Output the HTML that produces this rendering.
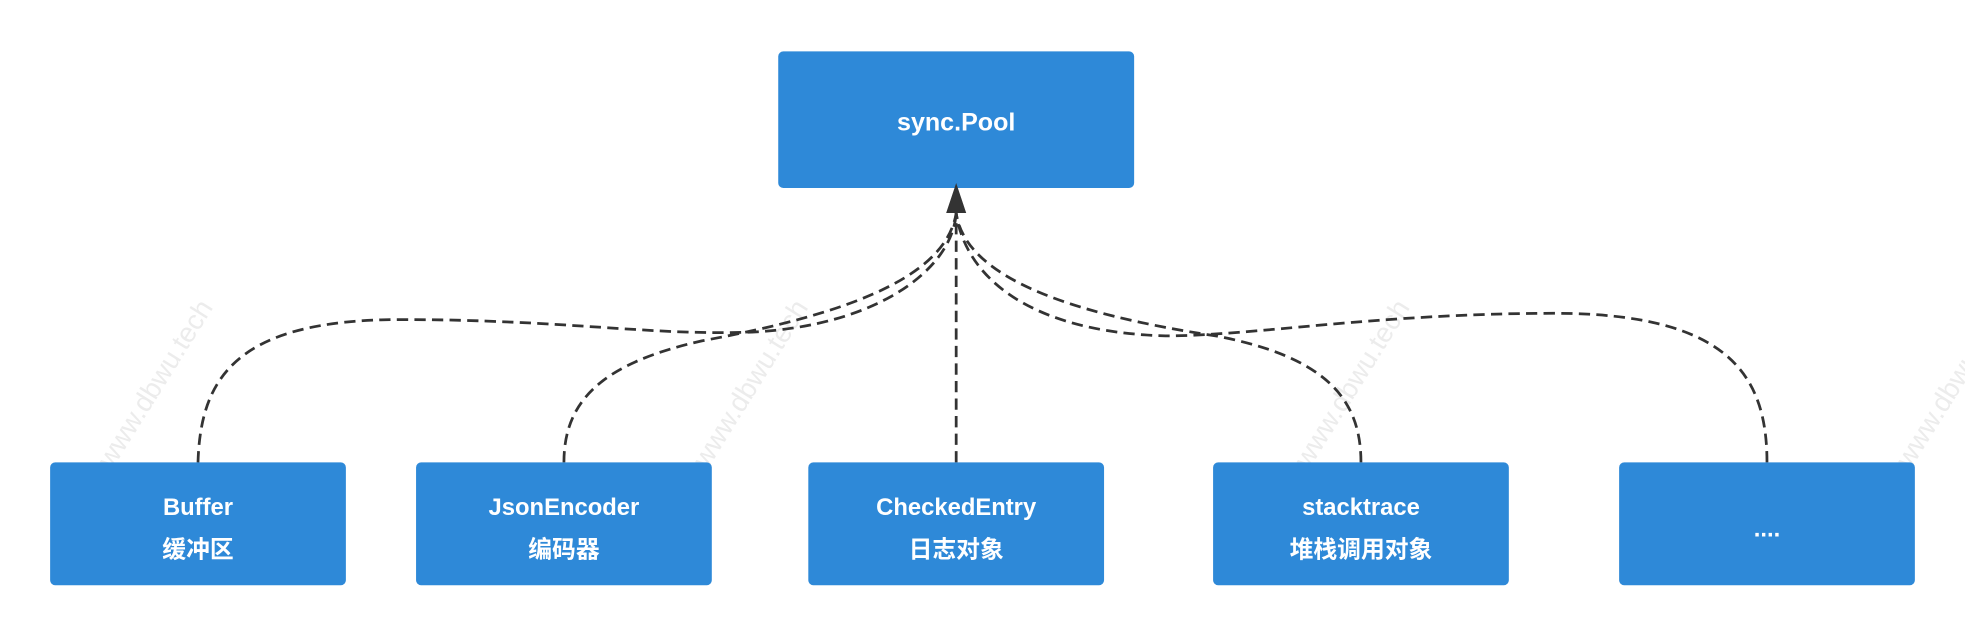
<!DOCTYPE html>
<html><head><meta charset="utf-8"><style>
html,body{margin:0;padding:0;background:#fff;width:1965px;height:636px;overflow:hidden}
svg{display:block}
text{font-family:"Liberation Sans","Noto Sans CJK SC",sans-serif;font-weight:bold;fill:#fff;text-anchor:middle}
.wm{fill:#ececec;font-weight:normal;font-size:22px}
</style></head><body>
<svg width="1965" height="636" viewBox="0 0 1568 507.5" xmlns="http://www.w3.org/2000/svg">
<g>
<text class="wm" transform="translate(130,310) rotate(-58)">www.dbwu.tech</text>
<text class="wm" transform="translate(605,310) rotate(-58)">www.dbwu.tech</text>
<text class="wm" transform="translate(1085,310) rotate(-58)">www.dbwu.tech</text>
<text class="wm" transform="translate(1565,310) rotate(-58)">www.dbwu.tech</text>
</g>
<g fill="none" stroke="#333" stroke-width="2.2" stroke-dasharray="9,5">
<path d="M158,369 C160,300 190,255 320,255 C450,255 520,268 600,265 C700,260 760,215 763,170"/>
<path d="M450,369 C450,320 480,290 560,272 C680,250 755,220 763,170"/>
<path d="M763,369 L763,170"/>
<path d="M1086,369 C1086,320 1060,285 970,268 C850,250 770,220 763,170"/>
<path d="M1410,369 C1410,300 1380,250 1240,250 C1100,250 1000,268 930,268 C820,265 770,220 763,170"/>
</g>
<g fill="#2e89d8">
<rect x="621" y="41" width="284" height="109" rx="4"/>
<rect x="40" y="369" width="236" height="98" rx="4"/>
<rect x="332" y="369" width="236" height="98" rx="4"/>
<rect x="645" y="369" width="236" height="98" rx="4"/>
<rect x="968" y="369" width="236" height="98" rx="4"/>
<rect x="1292" y="369" width="236" height="98" rx="4"/>
</g>
<polygon points="763,146 755,170 771,170" fill="#333"/>
<text x="763" y="104" font-size="20">sync.Pool</text>
<g font-size="19">
<text x="158" y="411">Buffer</text><text x="158" y="445">缓冲区</text>
<text x="450" y="411">JsonEncoder</text><text x="450" y="445">编码器</text>
<text x="763" y="411">CheckedEntry</text><text x="763" y="445">日志对象</text>
<text x="1086" y="411">stacktrace</text><text x="1086" y="445">堆栈调用对象</text>
<text x="1410" y="428">....</text>
</g>
</svg>
</body></html>
